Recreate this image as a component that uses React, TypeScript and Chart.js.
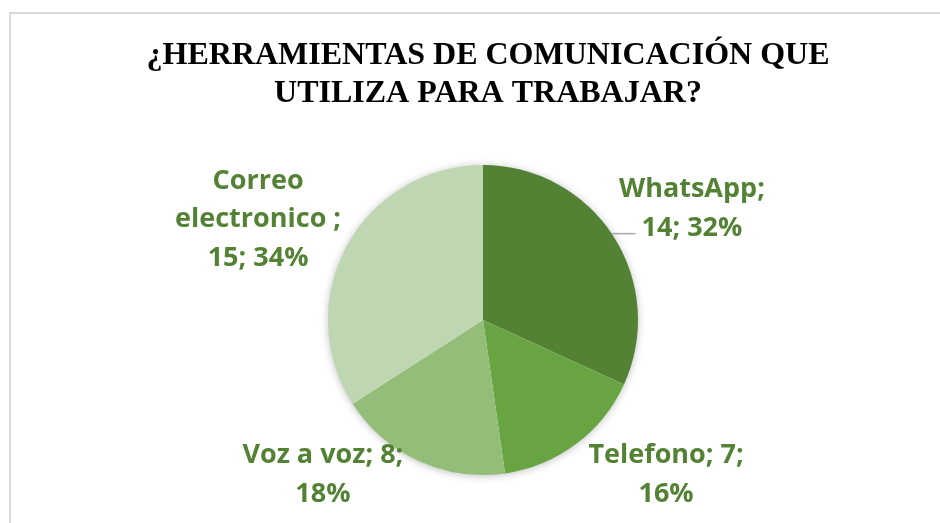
import React, { useEffect, useRef } from "react";
import { Chart, registerables } from "chart.js";

Chart.register(...registerables);

const titleLines = ["¿HERRAMIENTAS DE COMUNICACIÓN QUE", "UTILIZA PARA TRABAJAR?"];
const categories = ["WhatsApp", "Telefono", "Voz a voz", "Correo electronico "];
const values = [14, 7, 8, 15];
const colors = ["#548235", "#68a442", "#93bd79", "#bed7b2"];

// label placement relative to each slice: angle offset from mid-angle (deg), distance as multiple of radius
const labelAngleOffset = [4.3, -13.3, 21.8, -4.2];
const labelDistance = [1.533, 1.539, 1.428, 1.594];
const labelLeader = [true, false, false, false];

const LABEL_FONT = 'bold 27px "Open Sans"';
const LABEL_COLOR = "#548235";
const LABEL_LINE = 38.5;
const LABEL_MAX_W = 185;

function wrap(ctx: CanvasRenderingContext2D, text: string, maxW: number): string[] {
  const words = text.split(/\s+/).filter((w) => w.length);
  const lines: string[] = [];
  let cur = "";
  for (const w of words) {
    const t = cur ? cur + " " + w : w;
    if (cur && ctx.measureText(t).width > maxW) {
      lines.push(cur);
      cur = w;
    } else cur = t;
  }
  if (cur) lines.push(cur);
  return lines;
}

const decorPlugin = {
  id: "decor",
  beforeDraw(chart: any) {
    const ctx = chart.ctx as CanvasRenderingContext2D;
    ctx.save();
    ctx.fillStyle = "#ffffff";
    ctx.fillRect(0, 0, chart.width, chart.height);
    ctx.strokeStyle = "#d9d9d9";
    ctx.lineWidth = 2;
    ctx.beginPath();
    ctx.moveTo(10, chart.height);
    ctx.lineTo(10, 13);
    ctx.lineTo(chart.width, 13);
    ctx.stroke();
    // title
    ctx.fillStyle = "#000000";
    ctx.font = 'bold 32px "Liberation Serif"';
    ctx.textAlign = "center";
    ctx.textBaseline = "alphabetic";
    titleLines.forEach((l, i) => ctx.fillText(l, 488, 64 + i * 37.5));
    ctx.restore();
  },
  beforeDatasetsDraw(chart: any) {
    const meta = chart.getDatasetMeta(0);
    const arc = meta.data[0];
    if (!arc) return;
    const ctx = chart.ctx as CanvasRenderingContext2D;
    ctx.save();
    ctx.shadowColor = "rgba(0,0,0,0.28)";
    ctx.shadowBlur = 9;
    ctx.shadowOffsetY = 1;
    ctx.fillStyle = "#ffffff";
    ctx.beginPath();
    ctx.arc(arc.x, arc.y, arc.outerRadius - 0.5, 0, Math.PI * 2);
    ctx.fill();
    ctx.restore();
  },
  afterDatasetsDraw(chart: any) {
    const ctx = chart.ctx as CanvasRenderingContext2D;
    const meta = chart.getDatasetMeta(0);
    const total = values.reduce((a, b) => a + b, 0);
    ctx.save();
    ctx.font = LABEL_FONT;
    ctx.fillStyle = LABEL_COLOR;
    ctx.textAlign = "center";
    ctx.textBaseline = "alphabetic";
    meta.data.forEach((arc: any, i: number) => {
      const { x, y, startAngle, endAngle, outerRadius } = arc;
      const mid = (startAngle + endAngle) / 2 + (labelAngleOffset[i] * Math.PI) / 180;
      const cx = x + Math.cos(mid) * outerRadius * labelDistance[i];
      const cy = y + Math.sin(mid) * outerRadius * labelDistance[i];
      const pct = Math.round((values[i] / total) * 100);
      const text = `${categories[i]}; ${values[i]}; ${pct}%`;
      const lines = wrap(ctx, text, LABEL_MAX_W);
      const n = lines.length;
      lines.forEach((l, j) => {
        const capCenter = cy + (j - (n - 1) / 2) * LABEL_LINE;
        ctx.fillText(l, cx, capCenter + 9.5);
      });
      if (labelLeader[i]) {
        const last = lines[n - 1];
        const w = ctx.measureText(last).width;
        const ly = cy + ((n - 1) / 2) * LABEL_LINE + 7.5;
        const dy = ly - y;
        if (Math.abs(dy) < outerRadius) {
          const px = x + Math.sqrt(outerRadius * outerRadius - dy * dy);
          ctx.strokeStyle = "#a6a6a6";
          ctx.lineWidth = 1.5;
          ctx.beginPath();
          ctx.moveTo(px, ly);
          ctx.lineTo(cx - w / 2 - 6, ly);
          ctx.stroke();
        }
      }
    });
    ctx.restore();
  },
};

export default function App() {
  const ref = useRef<HTMLCanvasElement | null>(null);
  useEffect(() => {
    if (!ref.current) return;
    const chart = new Chart(ref.current, {
      type: "pie",
      data: {
        labels: categories,
        datasets: [
          {
            data: values,
            backgroundColor: colors,
            borderWidth: 0,
          },
        ],
      },
      options: {
        responsive: false,
        animation: false,
        layout: { padding: { left: 328, right: 302, top: 165, bottom: 48 } },
        plugins: {
          legend: { display: false },
          title: { display: false },
          tooltip: { enabled: false },
        },
      },
      plugins: [decorPlugin],
    });
    return () => chart.destroy();
  }, []);
  return (
    <div style={{ position: "absolute", left: 0, top: 0, width: 940, height: 523, overflow: "hidden", background: "#fff" }}>
      <canvas ref={ref} width={940} height={523} style={{ display: "block", width: 940, height: 523 }} />
    </div>
  );
}
